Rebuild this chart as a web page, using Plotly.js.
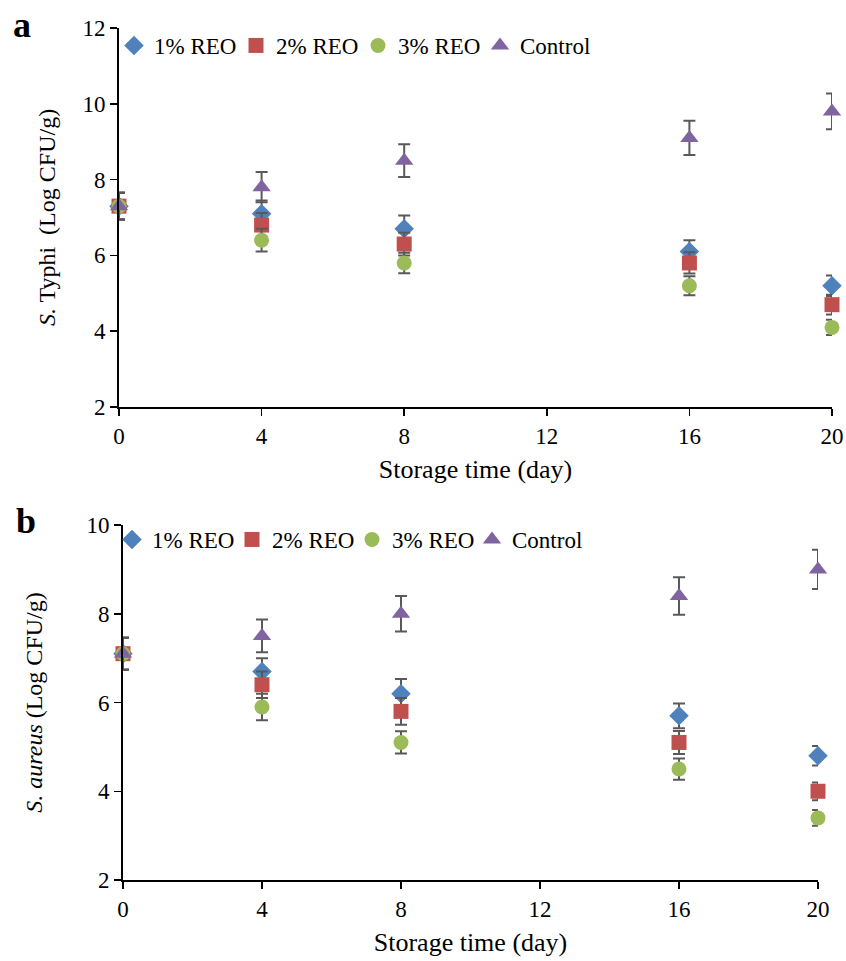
<!DOCTYPE html>
<html>
<head>
<meta charset="utf-8">
<script src="https://cdn.plot.ly/plotly-3.0.1.min.js"></script>
<style>html,body{margin:0;padding:0;background:#fff;}#chart{width:846px;height:961px;}</style>
</head>
<body>
<div id="chart"></div>
<script>
// ---- data ----
const days = [0, 4, 8, 16, 20];
const seriesNames = ["1% REO", "2% REO", "3% REO", "Control"];

// Panel a: S. Typhi (Log CFU/g)
const typhi_1 = [7.3, 7.1, 6.7, 6.1, 5.2];
const typhi_2 = [7.3, 6.8, 6.3, 5.8, 4.7];
const typhi_3 = [7.3, 6.4, 5.8, 5.2, 4.1];
const typhi_C = [7.3, 7.8, 8.5, 9.1, 9.8];
const typhiErr_1 = [0.35, 0.35, 0.35, 0.3, 0.27];
const typhiErr_2 = [0.35, 0.32, 0.3, 0.28, 0.26];
const typhiErr_3 = [0.35, 0.3, 0.27, 0.25, 0.2];
const typhiErr_C = [0.35, 0.4, 0.43, 0.45, 0.47];

// Panel b: S. aureus (Log CFU/g)
const aureus_1 = [7.1, 6.7, 6.2, 5.7, 4.8];
const aureus_2 = [7.1, 6.4, 5.8, 5.1, 4.0];
const aureus_3 = [7.1, 5.9, 5.1, 4.5, 3.4];
const aureus_C = [7.1, 7.5, 8.0, 8.4, 9.0];
const aureusErr_1 = [0.36, 0.3, 0.33, 0.28, 0.22];
const aureusErr_2 = [0.36, 0.3, 0.3, 0.26, 0.2];
const aureusErr_3 = [0.36, 0.3, 0.25, 0.24, 0.18];
const aureusErr_C = [0.36, 0.37, 0.4, 0.42, 0.44];

const xTicks = [0, 4, 8, 12, 16, 20];

// ---- styles ----
const colors = ["#4F81BD", "#C0504D", "#9BBB59", "#8064A2"];
const symbols = ["diamond", "square", "circle", "triangle-up"];
const sizes = [15, 15, 15, 16];
const FONT = "Liberation Serif, Times New Roman, serif";

function mk(y, err, i, xa, ya, leg) {
  return {
    type: "scatter", mode: "markers", x: days, y: y,
    name: seriesNames[i], xaxis: xa, yaxis: ya, legend: leg,
    cliponaxis: false,
    marker: {symbol: symbols[i], color: colors[i], size: sizes[i]},
    error_y: {type: "data", array: err, visible: true, color: "#595959", thickness: 2, width: 6}
  };
}

const data = [
  mk(typhi_1, typhiErr_1, 0, "x", "y", "legend"),
  mk(typhi_2, typhiErr_2, 1, "x", "y", "legend"),
  mk(typhi_3, typhiErr_3, 2, "x", "y", "legend"),
  mk(typhi_C, typhiErr_C, 3, "x", "y", "legend"),
  mk(aureus_1, aureusErr_1, 0, "x2", "y2", "legend2"),
  mk(aureus_2, aureusErr_2, 1, "x2", "y2", "legend2"),
  mk(aureus_3, aureusErr_3, 2, "x2", "y2", "legend2"),
  mk(aureus_C, aureusErr_C, 3, "x2", "y2", "legend2")
];

const W = 846, H = 961;
function axX(d0, d1, anchor, standoff) {
  return {
    domain: [d0 / W, d1 / W], range: [0, 20], anchor: anchor,
    tickvals: xTicks, ticks: "outside", ticklen: 7, tickwidth: 1.5, tickcolor: "#000",
    showline: true, linewidth: 2, linecolor: "#000", showgrid: false, zeroline: false,
    tickfont: {family: FONT, size: 23, color: "#000"},
    title: {text: "Storage time (day)", font: {family: FONT, size: 26, color: "#000"}, standoff: standoff},
    fixedrange: true
  };
}
function axY(top, bottom, range, anchor, title, standoff) {
  return {
    domain: [1 - bottom / H, 1 - top / H], range: range, anchor: anchor, dtick: 2,
    ticks: "outside", ticklen: 7, tickwidth: 1.5, tickcolor: "#000",
    showline: true, linewidth: 2, linecolor: "#000", showgrid: false, zeroline: false,
    tickfont: {family: FONT, size: 23, color: "#000"},
    title: {text: title, font: {family: FONT, size: 24, color: "#000"}, standoff: standoff},
    fixedrange: true
  };
}

const legendBase = {orientation: "h", xanchor: "left", yanchor: "top",
  bgcolor: "rgba(0,0,0,0)", itemwidth: 30, tracegroupgap: 0, entrywidthmode: "pixels"};

const layout = {
  width: W, height: H,
  margin: {l: 0, r: 0, t: 0, b: 0},
  paper_bgcolor: "#fff", plot_bgcolor: "#fff",
  font: {family: FONT, color: "#000"},
  showlegend: true,
  xaxis: axX(119, 832, "y", 12),
  yaxis: axY(28, 407, [2, 12], "x", "<i>S.</i> Typhi  (Log CFU/g)", 20),
  xaxis2: axX(123, 818, "y2", 12),
  yaxis2: axY(525, 880, [2, 10], "x2", "<i>S. aureus</i> (Log CFU/g)", 37),
  legend: Object.assign({}, legendBase, {x: 114 / W, y: 1 - 24 / H, entrywidth: 77,
    font: {family: FONT, size: 23, color: "#000"}}),
  legend2: Object.assign({}, legendBase, {x: 112 / W, y: 1 - 518 / H, entrywidth: 75,
    font: {family: FONT, size: 23, color: "#000"}}),
  annotations: [
    {text: "<b>a</b>", xref: "paper", yref: "paper", x: 11 / W, y: 1 - 25 / H, xanchor: "left", yanchor: "middle",
      showarrow: false, font: {family: FONT, size: 36, color: "#000"}},
    {text: "<b>b</b>", xref: "paper", yref: "paper", x: 14 / W, y: 1 - 521 / H, xanchor: "left", yanchor: "middle",
      showarrow: false, font: {family: FONT, size: 36, color: "#000"}}
  ]
};

Plotly.newPlot("chart", data, layout, {displayModeBar: false, staticPlot: true});
</script>
</body>
</html>
